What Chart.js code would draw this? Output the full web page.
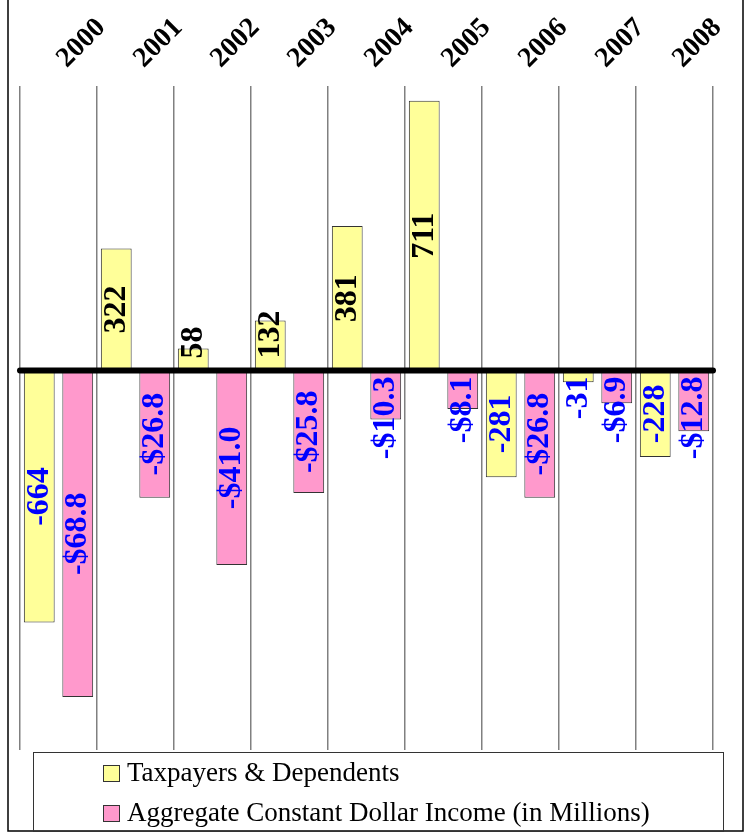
<!DOCTYPE html>
<html>
<head>
<meta charset="utf-8">
<script src="https://cdn.jsdelivr.net/npm/chart.js@4.4.0/dist/chart.umd.min.js"></script>
<style>
  body { margin: 0; background: #fff; }
  canvas { display: block; }
</style>
</head>
<body>
<canvas id="chart" width="751" height="834"></canvas>
<script>
// data
const years = ['2000', '2001', '2002', '2003', '2004', '2005', '2006', '2007', '2008'];
const taxpayers = [-664, 322, 58, 132, 381, 711, -281, -31, -228];
const income = [-68.8, -26.8, -41.0, -25.8, -10.3, -8.1, -26.8, -6.9, -12.8];
const seriesNames = ['Taxpayers & Dependents', 'Aggregate Constant Dollar Income (in Millions)'];
const seriesColors = ['#FFFF99', '#FF99CC'];

const serif = '"Liberation Serif", "Times New Roman", serif';

// thick black zero line
const zeroLine = {
  id: 'zeroLine',
  afterDatasetsDraw(chart) {
    const ctx = chart.ctx;
    const area = chart.chartArea;
    const y = chart.scales.y.getPixelForValue(0);
    ctx.save();
    ctx.strokeStyle = '#000';
    ctx.lineWidth = 6;
    ctx.lineCap = 'round';
    ctx.beginPath();
    ctx.moveTo(area.left, y);
    ctx.lineTo(area.right, y);
    ctx.stroke();
    ctx.restore();
  }
};

// rotated value labels on the bars
const valueLabels = {
  id: 'valueLabels',
  afterDatasetsDraw(chart) {
    const ctx = chart.ctx;
    ctx.save();
    ctx.font = 'bold 32px ' + serif;
    ctx.textBaseline = 'middle';
    ctx.textAlign = 'center';
    chart.data.datasets.forEach((ds, di) => {
      chart.getDatasetMeta(di).data.forEach((bar, i) => {
        const v = ds.data[i];
        const text = di === 0 ? String(v) : (v < 0 ? '-' : '') + '$' + Math.abs(v).toFixed(1);
        const w = ctx.measureText(text).width;
        const len = Math.abs(bar.base - bar.y);
        let cy;
        if (len >= w + 16) cy = (bar.y + bar.base) / 2;
        else if (v < 0) cy = bar.base + 6 + w / 2;
        else cy = bar.base - 12 - w / 2;
        ctx.fillStyle = v < 0 ? '#0000FF' : '#000000';
        ctx.save();
        ctx.translate(bar.x, cy);
        ctx.rotate(-Math.PI / 2);
        ctx.fillText(text, 0, 0);
        ctx.restore();
      });
    });
    ctx.restore();
  }
};

// frame + legend box
const frameLegend = {
  id: 'frameLegend',
  afterDraw(chart) {
    const ctx = chart.ctx;
    ctx.save();
    ctx.strokeStyle = '#000';
    ctx.lineWidth = 1.5;
    ctx.beginPath();
    ctx.moveTo(8, 0); ctx.lineTo(8, 831); ctx.lineTo(743, 831); ctx.lineTo(743, 0);
    ctx.stroke();

    ctx.lineWidth = 1;
    ctx.strokeStyle = '#333';
    ctx.strokeRect(33.5, 752.5, 690, 79);

    ctx.font = '27px ' + serif;
    ctx.textBaseline = 'middle';
    ctx.textAlign = 'left';
    seriesNames.forEach((name, i) => {
      const y = 765 + i * 40;
      ctx.fillStyle = seriesColors[i];
      ctx.fillRect(103, y, 17, 17);
      ctx.strokeStyle = '#333';
      ctx.strokeRect(103.5, y + 0.5, 16, 16);
      ctx.fillStyle = '#000';
      ctx.fillText(name, 127, y + 9);
    });
    ctx.restore();
  }
};

const ctx = document.getElementById('chart').getContext('2d');
new Chart(ctx, {
  type: 'bar',
  data: {
    labels: years,
    datasets: [
      {
        label: seriesNames[0],
        data: taxpayers,
        yAxisID: 'y',
        backgroundColor: seriesColors[0],
        borderColor: '#333',
        borderWidth: 1,
        borderSkipped: false
      },
      {
        label: seriesNames[1],
        data: income,
        yAxisID: 'y2',
        backgroundColor: seriesColors[1],
        borderColor: '#333',
        borderWidth: 1,
        borderSkipped: false
      }
    ]
  },
  options: {
    responsive: false,
    animation: false,
    layout: { padding: { left: 20, right: 38, top: 0, bottom: 84 } },
    categoryPercentage: 1.0,
    barPercentage: 0.8,
    plugins: {
      legend: { display: false },
      tooltip: { enabled: false }
    },
    scales: {
      x: {
        position: 'top',
        afterFit(scale) { scale.height = 86; },
        border: { display: false },
        grid: { color: '#808080', lineWidth: 1.5, drawTicks: false, offset: true },
        ticks: {
          autoSkip: false,
          minRotation: 45,
          maxRotation: 45,
          padding: 11,
          labelOffset: 27,
          color: '#000',
          font: { family: serif, size: 28, weight: 'bold' }
        }
      },
      y: { display: false, min: -1000, max: 750 },
      y2: { display: false, min: -80, max: 60 }
    }
  },
  plugins: [zeroLine, valueLabels, frameLegend]
});
</script>
</body>
</html>
